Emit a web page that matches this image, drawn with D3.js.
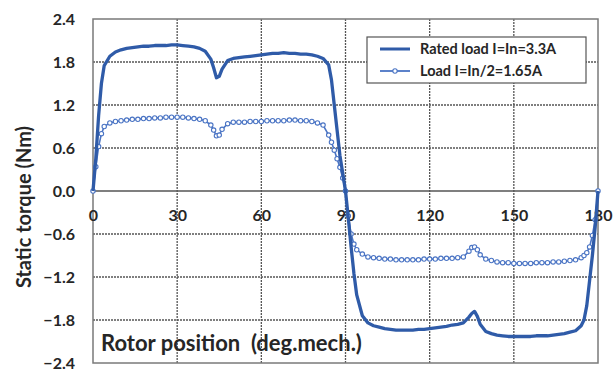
<!DOCTYPE html>
<html><head><meta charset="utf-8">
<script src="https://cdn.jsdelivr.net/npm/d3@7"></script>
<style>html,body{margin:0;padding:0;background:#fff;}svg{display:block;}</style>
</head><body>
<svg id="c" width="614" height="369"></svg>
<script>
const angles = [0,1,2,3,4,6,8,10,12,14,16,18,20,22,24,26,28,30,32,34,36,38,40,42,43,44,45,46,48,50,52,54,56,58,60,62,64,66,68,70,72,74,76,78,80,82,84,85,86,87,88,89,90,91,92,93,94,96,98,100,102,104,106,108,110,112,114,116,118,120,122,124,126,128,130,132,134,135,136,137,138,140,142,144,146,148,150,152,154,156,158,160,162,164,166,168,170,172,174,175,176,177,178,179,180];
const ratedLoad = [0,0.45,1.05,1.5,1.75,1.88,1.94,1.97,1.99,2.0,2.01,2.02,2.02,2.03,2.03,2.03,2.04,2.04,2.03,2.02,2.01,1.99,1.95,1.84,1.72,1.58,1.6,1.7,1.82,1.85,1.86,1.87,1.88,1.89,1.9,1.91,1.92,1.92,1.93,1.92,1.92,1.91,1.91,1.9,1.88,1.85,1.76,1.55,1.2,0.85,0.5,0.25,0,-0.38,-0.78,-1.15,-1.45,-1.74,-1.84,-1.88,-1.9,-1.92,-1.93,-1.94,-1.94,-1.94,-1.94,-1.93,-1.93,-1.92,-1.91,-1.9,-1.89,-1.87,-1.86,-1.84,-1.76,-1.71,-1.68,-1.75,-1.86,-1.96,-1.99,-2.01,-2.02,-2.03,-2.03,-2.03,-2.03,-2.03,-2.02,-2.02,-2.02,-2.01,-2.0,-1.99,-1.97,-1.95,-1.88,-1.8,-1.6,-1.25,-0.9,-0.5,0];
const halfLoad = [0,0.34,0.62,0.8,0.9,0.95,0.97,0.98,0.99,1.0,1.0,1.01,1.01,1.02,1.02,1.03,1.03,1.03,1.03,1.02,1.01,1.0,0.98,0.92,0.85,0.77,0.78,0.86,0.94,0.96,0.96,0.96,0.97,0.97,0.97,0.98,0.98,0.98,0.98,0.99,0.99,0.98,0.98,0.97,0.95,0.92,0.78,0.68,0.57,0.45,0.33,0.18,0,-0.35,-0.6,-0.74,-0.82,-0.88,-0.92,-0.93,-0.94,-0.95,-0.95,-0.96,-0.96,-0.96,-0.96,-0.96,-0.95,-0.95,-0.95,-0.94,-0.94,-0.94,-0.93,-0.92,-0.84,-0.79,-0.78,-0.82,-0.89,-0.95,-0.97,-0.99,-1.0,-1.0,-1.01,-1.01,-1.01,-1.01,-1.0,-1.0,-1.0,-0.99,-0.99,-0.98,-0.97,-0.96,-0.93,-0.9,-0.86,-0.78,-0.62,-0.4,0];
const xTicks = [0,30,60,90,120,150,180];
const yTicks = [-2.4,-1.8,-1.2,-0.6,0.0,0.6,1.2,1.8,2.4];
const seriesNames = ["Rated load I=In=3.3A","Load I=In/2=1.65A"];

const svg = d3.select("#c");
const L=93,R=598,T=19,B=363;
const x = d3.scaleLinear().domain([0,180]).range([L,R]);
const y = d3.scaleLinear().domain([-2.4,2.4]).range([B,T]);
const font = "Lato, 'Open Sans', sans-serif";
const txt = "#262626";
const c1 = "#2f5ba8", c2 = "#4a74c4";

// grid
svg.append("g").selectAll("line").data(yTicks.filter(v=>v!==0&&Math.abs(v)!==2.4)).join("line")
  .attr("x1",L).attr("x2",R).attr("y1",d=>y(d)).attr("y2",d=>y(d))
  .attr("stroke","#555").attr("stroke-width",1.3).attr("stroke-dasharray","2,1");
svg.append("g").selectAll("line").data(xTicks.filter(v=>v!==0&&v!==180)).join("line")
  .attr("x1",d=>x(d)).attr("x2",d=>x(d)).attr("y1",T).attr("y2",B)
  .attr("stroke","#555").attr("stroke-width",1.3).attr("stroke-dasharray","2,1");
// frame
svg.append("rect").attr("x",L).attr("y",T).attr("width",R-L).attr("height",B-T)
  .attr("fill","none").attr("stroke","#7a7a7a").attr("stroke-width",1.5);
// zero line
svg.append("line").attr("x1",L).attr("x2",R).attr("y1",y(0)).attr("y2",y(0))
  .attr("stroke","#555").attr("stroke-width",1.5);

// y axis labels
const yAxis = d3.axisLeft(y).tickValues(yTicks).tickFormat(d3.format(".1f")).tickSize(0).tickPadding(18);
const gy = svg.append("g").attr("transform",`translate(${L},0)`).call(yAxis);
gy.select(".domain").remove();
gy.selectAll("text").attr("font-family",font).attr("font-weight","bold").attr("font-size",16).attr("fill",txt);

// x axis labels (below zero line)
const xAxis = d3.axisBottom(x).tickValues(xTicks).tickFormat(d3.format("d")).tickSize(0).tickPadding(19);
const gx = svg.append("g").attr("transform",`translate(0,${y(0)})`).call(xAxis);
gx.select(".domain").remove();
gx.selectAll("text").attr("font-family",font).attr("font-weight","bold").attr("font-size",16).attr("fill",txt);

// lines
const line = d3.line().x((d,i)=>x(angles[i])).y(d=>y(d));
svg.append("path").datum(halfLoad).attr("d",line).attr("fill","none").attr("stroke",c2).attr("stroke-width",1.6);
svg.append("g").selectAll("circle").data(halfLoad).join("circle")
  .attr("cx",(d,i)=>x(angles[i])).attr("cy",d=>y(d)).attr("r",2.2)
  .attr("fill","#fff").attr("stroke",c2).attr("stroke-width",1.1);
svg.append("path").datum(ratedLoad).attr("d",line).attr("fill","none").attr("stroke",c1).attr("stroke-width",3.3).attr("stroke-linejoin","round");

// titles
svg.append("text").attr("transform","translate(31,207) rotate(-90)").attr("text-anchor","middle")
  .attr("font-family",font).attr("font-weight","bold").attr("font-size",20).attr("fill",txt)
  .text("Static torque (Nm)");
svg.append("text").attr("x",101).attr("y",351).attr("font-family",font).attr("font-weight","bold")
  .attr("font-size",22).attr("fill",txt).attr("xml:space","preserve").style("white-space","pre")
  .text("Rotor position  (deg.mech.)");

// legend
const lg = svg.append("g");
lg.append("rect").attr("x",367).attr("y",37).attr("width",219).attr("height",46)
  .attr("fill","#fff").attr("stroke","#555").attr("stroke-width",1.2);
[0,1].forEach(i=>{
  const yy = 49 + i*22;
  lg.append("line").attr("x1",380).attr("x2",410).attr("y1",yy).attr("y2",yy)
    .attr("stroke",i===0?c1:c2).attr("stroke-width",i===0?3:1.8);
  if(i===1) lg.append("circle").attr("cx",395).attr("cy",yy).attr("r",2.2).attr("fill","#fff").attr("stroke",c2).attr("stroke-width",1.1);
  lg.append("text").attr("x",420).attr("y",yy+5).attr("font-family",font).attr("font-weight","bold")
    .attr("font-size",14.5).attr("fill",txt).text(seriesNames[i]);
});
</script>
</body></html>
